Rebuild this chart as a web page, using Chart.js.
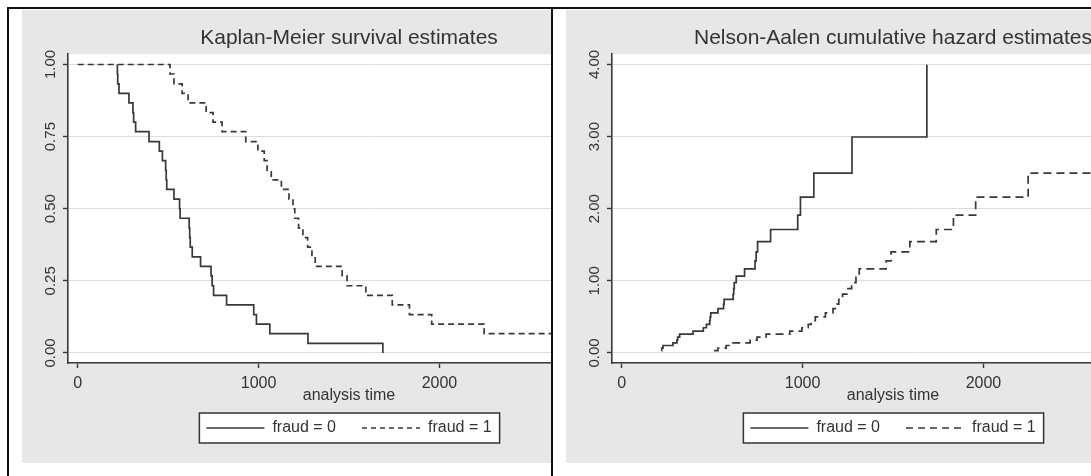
<!DOCTYPE html>
<html>
<head>
<meta charset="utf-8">
<title>Survival estimates by fraud</title>
<script src="https://cdn.jsdelivr.net/npm/chart.js@4.4.1/dist/chart.umd.min.js"></script>
<style>
  html, body { margin: 0; padding: 0; background: #fff; width: 1091px; height: 476px; overflow: hidden; }
  body { position: relative; font-family: 'Liberation Sans', Arial, sans-serif; }
  .rule { position: absolute; background: #111; }
  .panel { position: absolute; top: 10px; height: 453px; overflow: hidden; background: #e7e7e7; }
  .panel canvas { position: absolute; left: 0; top: 0; }
</style>
</head>
<body>
<div class="rule" style="left:7px; top:7px; width:1084px; height:2px;"></div>
<div class="rule" style="left:7px; top:7px; width:2px; height:469px;"></div>
<div class="rule" style="left:551px; top:7px; width:2px; height:469px;"></div>

<div class="panel" style="left:22px; width:529px;"><canvas id="km" width="654" height="453"></canvas></div>
<div class="panel" style="left:566px; width:525px;"><canvas id="na" width="654" height="453"></canvas></div>

<script>
const FONT = "'Liberation Sans', Arial, Helvetica, sans-serif";
const INK = '#333333';
const LINE = '#383838';

// fraud = 0: failure times, KM survival and Nelson-Aalen hazard after each failure
const start0 = 219;
const times0 = [219, 221, 228, 283, 305, 309, 320, 394, 451, 468, 486, 489, 492, 532, 563, 566,
                616, 619, 622, 633, 679, 737, 743, 751, 823, 973, 988, 1062, 1273, 1687];
const surv0 = [0.967, 0.933, 0.900, 0.867, 0.833, 0.800, 0.767, 0.733, 0.700, 0.667, 0.633, 0.600,
               0.567, 0.533, 0.500, 0.467, 0.433, 0.400, 0.367, 0.333, 0.300, 0.267, 0.233, 0.200,
               0.167, 0.133, 0.100, 0.067, 0.033, 0.000];
const haz0 = [0.033, 0.068, 0.104, 0.141, 0.179, 0.219, 0.261, 0.304, 0.350, 0.397, 0.447, 0.500,
              0.555, 0.614, 0.677, 0.743, 0.815, 0.892, 0.975, 1.066, 1.166, 1.277, 1.402, 1.545,
              1.712, 1.912, 2.162, 2.495, 2.995, 3.995];

// fraud = 1: last entry is the final (censored) follow-up time
const start1 = 0;
const times1 = [510, 532, 577, 610, 710, 748, 798, 929, 996, 1031, 1047, 1070, 1126, 1168, 1190, 1200,
                1221, 1245, 1271, 1295, 1313, 1462, 1489, 1593, 1739, 1834, 1957, 2247, 2650];
const surv1 = [0.967, 0.933, 0.900, 0.867, 0.833, 0.800, 0.767, 0.733, 0.700, 0.667, 0.633, 0.600,
               0.567, 0.533, 0.500, 0.467, 0.433, 0.400, 0.367, 0.333, 0.300, 0.267, 0.233, 0.200,
               0.167, 0.133, 0.100, 0.067, 0.067];
const haz1 = [0.033, 0.068, 0.104, 0.141, 0.179, 0.219, 0.261, 0.304, 0.350, 0.397, 0.447, 0.500,
              0.555, 0.614, 0.677, 0.743, 0.815, 0.892, 0.975, 1.066, 1.166, 1.277, 1.402, 1.545,
              1.712, 1.912, 2.162, 2.495, 2.495];

const timeTicks = [0, 1000, 2000];
const survTicks = [0, 0.25, 0.5, 0.75, 1];
const hazTicks = [0, 1, 2, 3, 4];
const groupLabels = ['fraud = 0', 'fraud = 1'];

Chart.defaults.font.family = FONT;
Chart.defaults.color = INK;

const toPoints = (times, vals) => times.map((t, i) => ({ x: t, y: vals[i] }));

// white plot region, framed legend, rotated y labels and the time caption
const panelDecor = {
  id: 'panelDecor',
  beforeDraw(chart) {
    const { ctx, chartArea: a, legend } = chart;
    ctx.save();
    ctx.fillStyle = '#fff';
    ctx.fillRect(a.left, a.top, a.right - a.left, a.bottom - a.top);
    const hb = legend.legendHitBoxes;
    const last = hb[hb.length - 1];
    const x0 = hb[0].left - 7;
    const x1 = last.left + last.width + 8;
    const cy = hb[0].top + hb[0].height / 2;
    ctx.fillRect(x0, cy - 15, x1 - x0, 30);
    ctx.strokeStyle = '#333';
    ctx.lineWidth = 1.5;
    ctx.strokeRect(x0, cy - 15, x1 - x0, 30);
    ctx.restore();
  },
  afterDraw(chart) {
    const { ctx, chartArea: a, scales: { y } } = chart;
    ctx.save();
    ctx.fillStyle = INK;
    ctx.font = '15px ' + FONT;
    ctx.textAlign = 'center';
    ctx.textBaseline = 'middle';
    y.ticks.forEach(t => {
      ctx.save();
      ctx.translate(a.left - 17, y.getPixelForValue(t.value));
      ctx.rotate(-Math.PI / 2);
      ctx.fillText(t.value.toFixed(2), 0, 0);
      ctx.restore();
    });
    ctx.font = '16px ' + FONT;
    ctx.fillText('analysis time', chart.width / 2, a.bottom + 33);
    ctx.restore();
  }
};

function makePanel(id, cfg) {
  return new Chart(document.getElementById(id), {
    type: 'line',
    data: {
      datasets: [
        { label: groupLabels[0], data: cfg.series[0], borderDash: [] },
        { label: groupLabels[1], data: cfg.series[1], borderDash: cfg.dash }
      ]
    },
    options: {
      responsive: false,
      animation: false,
      devicePixelRatio: 1,
      layout: { padding: { top: 0, right: 0, bottom: 17, left: 0 } },
      elements: {
        point: { radius: 0 },
        line: { borderColor: LINE, borderWidth: 1.7, stepped: true, fill: false, tension: 0 }
      },
      scales: {
        x: {
          type: 'linear',
          min: -54,
          max: 3308,
          afterBuildTicks: s => { s.ticks = timeTicks.map(v => ({ value: v })); },
          afterFit: s => { s.height = 31; },
          grid: { drawOnChartArea: false, tickLength: 5, tickColor: LINE, tickWidth: 1.4 },
          border: { color: LINE, width: 1.6 },
          ticks: { color: INK, font: { size: 16 }, padding: 6, maxRotation: 0, callback: v => String(v) }
        },
        y: {
          type: 'linear',
          min: cfg.yMin,
          max: cfg.yMax,
          afterBuildTicks: s => { s.ticks = cfg.yTicks.map(v => ({ value: v })); },
          afterFit: s => { s.width = 46; },
          grid: { color: '#dddddd', lineWidth: 1, tickLength: 5, tickColor: LINE, tickWidth: 1.4 },
          border: { color: LINE, width: 1.6 },
          ticks: { display: false }
        }
      },
      plugins: {
        title: {
          display: true,
          text: cfg.title,
          color: INK,
          font: { size: 21, weight: 'normal' },
          padding: { top: 16, bottom: 3 }
        },
        legend: {
          position: 'bottom',
          labels: {
            usePointStyle: true,
            pointStyle: 'line',
            pointStyleWidth: 58,
            padding: 26,
            color: INK,
            font: { size: 16 },
            // key samples take the line colour and each panel's key dash
            generateLabels: chart => chart.data.datasets.map((ds, i) => ({
              text: ds.label,
              datasetIndex: i,
              hidden: false,
              fontColor: INK,
              fillStyle: 'rgba(0,0,0,0)',
              strokeStyle: LINE,
              lineWidth: 1.5,
              lineDash: i === 0 ? [] : cfg.keyDash,
              pointStyle: 'line'
            }))
          }
        },
        tooltip: { enabled: false }
      }
    },
    plugins: [panelDecor]
  });
}

makePanel('km', {
  title: 'Kaplan-Meier survival estimates',
  series: [
    [{ x: start0, y: 1 }, ...toPoints(times0, surv0)],
    [{ x: start1, y: 1 }, ...toPoints(times1, surv1)]
  ],
  dash: [6, 4],
  keyDash: [5, 4],
  yMin: -0.0347, yMax: 1.0357, yTicks: survTicks
});

makePanel('na', {
  title: 'Nelson-Aalen cumulative hazard estimates',
  series: [toPoints(times0, haz0), toPoints(times1, haz1)],
  dash: [8, 5],
  keyDash: [7, 5],
  yMin: -0.139, yMax: 4.143, yTicks: hazTicks
});
</script>
</body>
</html>
